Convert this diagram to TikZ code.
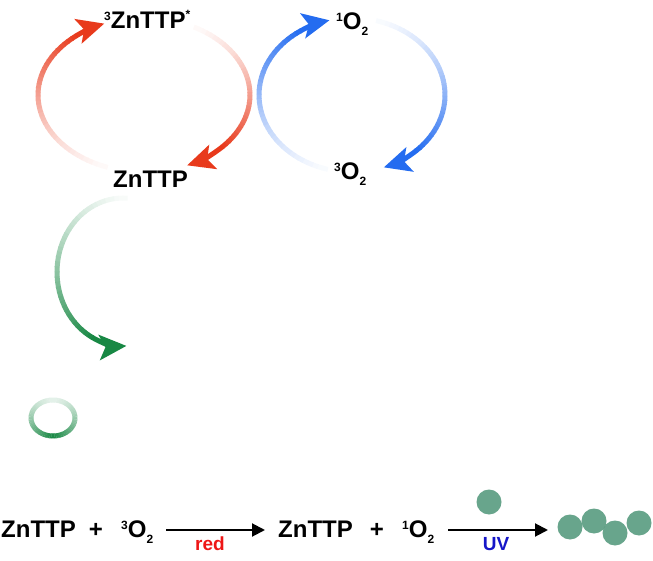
\documentclass[tikz,border=0pt]{standalone}
\usepackage{fontspec}
\setmainfont{Liberation Sans}
\usetikzlibrary{arrows.meta}

\definecolor{cycred}{RGB}{232,58,28}
\definecolor{cycblue}{RGB}{36,108,240}
\definecolor{cycgreen}{RGB}{24,136,68}
\definecolor{dotgreen}{RGB}{88,155,127}
\definecolor{lblred}{RGB}{238,22,22}
\definecolor{lblblue}{RGB}{22,22,200}

\newcommand{\supn}[1]{\raisebox{8pt}{\fontsize{12}{12}\selectfont #1}}
\newcommand{\subn}[1]{\raisebox{-6pt}{\fontsize{12}{12}\selectfont #1}}

% arc fading from white into the colour: colour, centre, x radius, y radius, start, end, first percent
\newcommand{\fadearc}[7]{%
  \pgfmathsetmacro{\arcstep}{(#6-#5)/40}%
  \foreach \k in {0,...,39}{%
    \pgfmathsetmacro{\angA}{#5+\k*\arcstep}%
    \pgfmathsetmacro{\angB}{#5+(\k+1.15)*\arcstep}%
    \pgfmathtruncatemacro{\pcnt}{#7+(100-#7)*((\k+0.5)/40)^1.4}%
    \draw[line width=5pt, #1!\pcnt!white] (#2) ++(\angA:#3 and #4)
      arc[start angle=\angA, end angle=\angB, x radius=#3, y radius=#4];
  }%
}

\tikzset{
  chem/.style={inner sep=0pt, anchor=base west, font=\fontsize{24}{28}\selectfont\bfseries},
  condlbl/.style={inner sep=0pt, anchor=base, font=\fontsize{19}{22}\selectfont\bfseries},
  reac/.style={line width=2pt, -{Triangle[length=13pt,width=13pt]}},
  cycarrow/.style={line width=5pt, -{Stealth[length=27pt,width=25pt,inset=6pt]}},
  bead/.style={circle, fill=dotgreen, fill opacity=0.9, minimum size=25pt, inner sep=0pt}
}

\begin{document}
\begin{tikzpicture}[x=1pt, y=1pt]
            \useasboundingbox (0,0) rectangle (653,560);
            \coordinate (redc) at (144,465);
            \coordinate (bluec) at (352,465);
            \coordinate (greenc) at (123,288);
            \coordinate (ringc) at (53,142);

            \fadearc{cycred}{redc}{106}{77}{250}{130}{3}
            \draw[cycarrow, cycred] (redc) ++(130:106 and 77) arc[start angle=130, end angle=112, x radius=106, y radius=77];
            \fadearc{cycred}{redc}{106}{77}{62}{-42}{3}
            \draw[cycarrow, cycred] (redc) ++(-42:106 and 77) arc[start angle=-42, end angle=-66, x radius=106, y radius=77];

            \fadearc{cycblue}{bluec}{93}{77}{255}{124}{3}
            \draw[cycarrow, cycblue] (bluec) ++(124:93 and 77) arc[start angle=124, end angle=104, x radius=93, y radius=77];
            \fadearc{cycblue}{bluec}{93}{77}{75}{-46}{3}
            \draw[cycarrow, cycblue] (bluec) ++(-46:93 and 77) arc[start angle=-46, end angle=-70, x radius=93, y radius=77];

            \fadearc{cycgreen}{greenc}{66}{74}{86}{242}{3}
            \draw[cycarrow, cycgreen] (greenc) ++(242:66 and 74) arc[start angle=242, end angle=273, x radius=66, y radius=74];

            \fadearc{cycgreen}{ringc}{22}{18}{90}{270}{12}
            \fadearc{cycgreen}{ringc}{22}{18}{90}{-90}{12}

            \node[chem] (zstar) at (104,531) {\supn{3}ZnTTP{\raisebox{10pt}{\fontsize{12}{12}\selectfont *}}};
            \node[chem] (zgnd) at (113,372) {ZnTTP};
            \node[chem] (o1) at (336,530) {\supn{1}O\subn{2}};
            \node[chem] (o3) at (334,380) {\supn{3}O\subn{2}};

            \node[chem] (zn1) at (1,23) {ZnTTP};
            \node[chem, anchor=base] (pl1) at (96,23) {+};
            \node[chem] (o3a) at (121,23) {\supn{3}O\subn{2}};
            \node[chem] (zn2) at (278,23) {ZnTTP};
            \node[chem, anchor=base] (pl2) at (377,23) {+};
            \node[chem] (o1a) at (402,23) {\supn{1}O\subn{2}};
            \draw[reac] ([xshift=13pt,yshift=7pt]o3a.base east) -- ([xshift=-13pt,yshift=7pt]zn2.base west);
            \node[condlbl, lblred] (redlight) at (210,10) {red};

            \coordinate (uvend) at (548,30);
            \draw[reac] ([xshift=14pt,yshift=7pt]o1a.base east) -- (uvend);
            \node[condlbl, lblblue] (uvlight) at (496,10) {UV};
            \node[bead] (free) at (489,58) {};

            \node[bead] (b1) at (570,33) {};
            \node[bead] (b2) at (594,39) {};
            \node[bead] (b3) at (615,27) {};
            \node[bead] (b4) at (639,37) {};
\end{tikzpicture}
\end{document}
